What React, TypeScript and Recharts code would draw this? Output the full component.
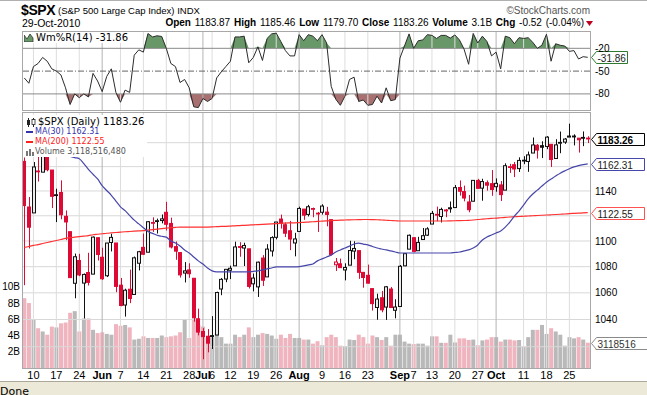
import React from 'react';
import { ComposedChart, Bar, Line, Area, XAxis, YAxis, ReferenceLine, Cell } from 'recharts';

// $SPX daily, 6-May-2010 .. 29-Oct-2010
const dates = [
  '05-06', '05-07', '05-10', '05-11', '05-12', '05-13', '05-14', '05-17', '05-18', '05-19',
  '05-20', '05-21', '05-24', '05-25', '05-26', '05-27', '05-28', '06-01', '06-02', '06-03',
  '06-04', '06-07', '06-08', '06-09', '06-10', '06-11', '06-14', '06-15', '06-16', '06-17',
  '06-18', '06-21', '06-22', '06-23', '06-24', '06-25', '06-28', '06-29', '06-30', '07-01',
  '07-02', '07-06', '07-07', '07-08', '07-09', '07-12', '07-13', '07-14', '07-15', '07-16',
  '07-19', '07-20', '07-21', '07-22', '07-23', '07-26', '07-27', '07-28', '07-29', '07-30',
  '08-02', '08-03', '08-04', '08-05', '08-06', '08-09', '08-10', '08-11', '08-12', '08-13',
  '08-16', '08-17', '08-18', '08-19', '08-20', '08-23', '08-24', '08-25', '08-26', '08-27',
  '08-30', '08-31', '09-01', '09-02', '09-03', '09-07', '09-08', '09-09', '09-10', '09-13',
  '09-14', '09-15', '09-16', '09-17', '09-20', '09-21', '09-22', '09-23', '09-24', '09-27',
  '09-28', '09-29', '09-30', '10-01', '10-04', '10-05', '10-06', '10-07', '10-08', '10-11',
  '10-12', '10-13', '10-14', '10-15', '10-18', '10-19', '10-20', '10-21', '10-22', '10-25',
  '10-26', '10-27', '10-28', '10-29',
];

const open = [
  1164.38, 1127.04, 1122.27, 1156.39, 1155.43, 1170.04, 1157.19, 1136.52, 1138.78, 1119.57,
  1107.34, 1067.26, 1084.78, 1067.42, 1075.51, 1074.27, 1102.59, 1087.3, 1073.01, 1098.82,
  1098.43, 1065.84, 1050.81, 1062.75, 1058.77, 1082.65, 1095.0, 1091.21, 1114.02, 1115.98,
  1116.16, 1122.79, 1113.9, 1095.57, 1090.93, 1075.1, 1077.5, 1071.1, 1040.56, 1031.1,
  1027.65, 1028.09, 1028.54, 1062.92, 1070.5, 1077.23, 1080.65, 1095.61, 1094.46, 1093.85,
  1066.85, 1064.53, 1086.67, 1072.14, 1092.17, 1102.89, 1117.36, 1112.84, 1108.07, 1098.44,
  1107.53, 1125.34, 1121.06, 1125.78, 1122.07, 1122.8, 1122.92, 1116.89, 1081.48, 1082.22,
  1077.49, 1081.16, 1092.08, 1092.44, 1075.63, 1073.36, 1063.2, 1048.98, 1056.28, 1049.27,
  1062.9, 1046.88, 1049.72, 1080.66, 1093.61, 1102.6, 1092.36, 1101.15, 1104.57, 1113.38,
  1121.16, 1119.43, 1123.89, 1126.39, 1126.57, 1142.82, 1139.49, 1131.1, 1131.69, 1148.64,
  1142.31, 1146.75, 1145.97, 1143.49, 1144.96, 1140.68, 1159.81, 1161.57, 1158.36, 1165.32,
  1164.28, 1171.32, 1177.82, 1177.47, 1176.83, 1178.64, 1166.74, 1179.82, 1180.52, 1184.74,
  1184.88, 1183.84, 1184.47, 1183.87,
];
const high = [
  1167.58, 1135.13, 1163.85, 1170.48, 1172.87, 1173.57, 1157.19, 1141.88, 1148.66, 1124.27,
  1107.34, 1090.16, 1089.95, 1074.75, 1090.75, 1103.52, 1102.59, 1094.77, 1098.56, 1105.67,
  1098.43, 1071.36, 1063.15, 1077.74, 1087.85, 1092.25, 1105.91, 1115.59, 1118.74, 1117.72,
  1121.01, 1131.23, 1118.5, 1099.64, 1090.93, 1083.56, 1082.6, 1071.1, 1048.08, 1033.58,
  1032.95, 1042.5, 1060.89, 1071.25, 1078.16, 1080.78, 1099.46, 1099.08, 1098.66, 1093.85,
  1074.7, 1083.94, 1088.96, 1097.5, 1103.73, 1115.01, 1120.95, 1114.66, 1115.9, 1106.44,
  1127.3, 1125.44, 1128.75, 1126.56, 1123.06, 1129.24, 1127.16, 1116.89, 1086.72, 1086.25,
  1082.62, 1100.14, 1099.77, 1092.44, 1075.63, 1081.58, 1063.2, 1059.38, 1061.45, 1065.21,
  1064.4, 1055.14, 1081.3, 1090.1, 1105.1, 1102.6, 1103.26, 1110.27, 1110.88, 1123.87,
  1127.36, 1126.46, 1125.44, 1131.47, 1144.86, 1148.59, 1144.38, 1136.77, 1148.9, 1149.92,
  1150.0, 1148.63, 1157.16, 1150.3, 1148.16, 1162.76, 1162.33, 1163.87, 1167.73, 1168.68,
  1172.58, 1184.38, 1178.89, 1181.2, 1185.53, 1178.64, 1182.94, 1189.43, 1183.93, 1196.14,
  1187.11, 1183.84, 1189.53, 1185.46,
];
const low = [
  1065.79, 1094.15, 1122.27, 1147.71, 1155.43, 1156.14, 1126.14, 1114.96, 1117.2, 1100.66,
  1071.58, 1055.9, 1072.7, 1040.78, 1065.59, 1074.27, 1084.78, 1069.89, 1072.03, 1091.81,
  1060.5, 1049.86, 1042.17, 1052.25, 1058.77, 1077.12, 1089.03, 1091.21, 1107.13, 1105.87,
  1113.93, 1108.24, 1094.18, 1085.31, 1071.6, 1067.89, 1071.45, 1038.38, 1028.33, 1010.91,
  1015.93, 1018.35, 1028.54, 1058.24, 1068.1, 1070.45, 1080.65, 1087.68, 1080.53, 1063.32,
  1061.11, 1056.88, 1065.25, 1072.14, 1087.88, 1101.3, 1109.78, 1103.11, 1092.82, 1088.01,
  1107.53, 1116.76, 1119.46, 1118.81, 1107.17, 1120.91, 1111.58, 1088.55, 1076.69, 1079.0,
  1069.49, 1081.16, 1085.76, 1070.66, 1063.91, 1067.08, 1046.68, 1039.83, 1045.4, 1039.7,
  1048.79, 1040.88, 1049.72, 1080.39, 1093.61, 1091.15, 1092.36, 1101.15, 1103.92, 1113.38,
  1115.58, 1114.63, 1118.88, 1122.43, 1126.57, 1136.22, 1131.58, 1122.79, 1131.69, 1142.0,
  1132.09, 1140.26, 1136.08, 1139.42, 1131.87, 1140.68, 1154.85, 1151.41, 1155.58, 1162.02,
  1155.71, 1171.32, 1166.71, 1167.12, 1174.55, 1159.71, 1166.74, 1171.17, 1178.99, 1184.74,
  1177.72, 1171.7, 1177.1, 1179.7,
];
const close = [
  1128.15, 1110.88, 1159.73, 1155.79, 1171.67, 1157.44, 1135.68, 1136.94, 1120.8, 1115.05,
  1071.59, 1087.69, 1073.65, 1074.03, 1067.95, 1103.06, 1089.41, 1070.71, 1098.38, 1102.83,
  1064.88, 1050.47, 1062.0, 1055.69, 1086.84, 1091.6, 1089.63, 1115.23, 1114.61, 1116.04,
  1117.51, 1113.2, 1095.31, 1092.04, 1073.69, 1076.76, 1074.57, 1041.24, 1030.71, 1027.37,
  1022.58, 1028.06, 1060.27, 1070.25, 1077.96, 1078.75, 1095.34, 1095.17, 1096.48, 1064.88,
  1071.25, 1083.48, 1069.59, 1093.67, 1102.66, 1115.01, 1113.84, 1106.13, 1101.53, 1101.6,
  1125.86, 1120.46, 1127.24, 1125.81, 1121.64, 1127.79, 1121.06, 1089.47, 1083.61, 1079.25,
  1079.38, 1092.54, 1094.16, 1075.63, 1071.69, 1067.36, 1051.87, 1055.33, 1047.22, 1064.59,
  1048.92, 1049.33, 1080.29, 1090.1, 1104.51, 1091.84, 1098.87, 1104.18, 1109.55, 1121.9,
  1121.1, 1125.07, 1124.66, 1125.59, 1142.71, 1139.78, 1134.28, 1124.83, 1148.67, 1142.16,
  1147.7, 1144.73, 1141.2, 1146.24, 1137.03, 1160.75, 1159.97, 1158.06, 1165.15, 1165.32,
  1169.77, 1178.1, 1173.81, 1176.19, 1184.71, 1165.9, 1178.17, 1180.26, 1183.08, 1185.62,
  1185.64, 1182.45, 1183.78, 1183.26,
];
const prevClose = 1165.87; // 5-May close, only used to colour the first bar

// volume in billions of shares
const volume = [
  8.6, 8.0, 6.0, 4.9, 4.5, 4.1, 5.1, 5.0, 5.5, 5.6,
  6.8, 7.0, 4.5, 6.1, 6.1, 4.7, 4.3, 4.4, 4.2, 4.1,
  5.4, 5.2, 5.3, 5.0, 3.5, 3.6, 3.9, 3.7, 3.7, 3.7,
  4.0, 3.8, 3.9, 4.0, 4.4, 6.0, 3.7, 6.0, 5.3, 5.1,
  3.7, 3.8, 4.3, 3.8, 3.0, 3.0, 4.1, 3.8, 4.1, 5.0,
  3.8, 4.1, 4.3, 4.2, 4.0, 3.6, 4.1, 3.7, 4.2, 3.7,
  3.7, 3.5, 3.5, 3.0, 3.3, 2.8, 3.8, 4.1, 3.8, 2.75,
  2.7, 3.5, 3.45, 4.1, 3.8, 3.0, 4.0, 3.8, 3.45, 3.8,
  2.75, 4.1, 4.1, 3.25, 3.0, 2.95, 3.0, 3.0, 2.75, 3.9,
  3.9, 3.1, 3.1, 4.1, 3.15, 3.65, 3.65, 3.45, 3.5, 2.8,
  3.4, 3.5, 3.8, 3.8, 3.25, 3.5, 3.5, 3.4, 3.45, 2.6,
  3.8, 4.7, 4.7, 5.3, 4.2, 4.9, 4.5, 4.1, 2.75, 3.8,
  3.65, 3.8, 3.5, 3.1185,
];

const ma30 = [
  1185, 1183, 1181, 1179, 1177, 1175, 1173.5, 1172, 1171, 1169,
  1168.5, 1167.5, 1166.6, 1162.5, 1157.7, 1153.7, 1149.8, 1144.3, 1140.4, 1136.5,
  1131.8, 1127.2, 1124.1, 1120.3, 1116.5, 1113.5, 1110.5, 1107.5, 1106, 1104.5,
  1103.7, 1103, 1100, 1098.4, 1096, 1093, 1090.6, 1087.5, 1084.5, 1082,
  1079, 1076.8, 1076, 1076, 1076, 1076, 1076, 1076, 1076, 1076,
  1076.4, 1076.8, 1077.5, 1078.3, 1079, 1079.8, 1079.8, 1079.8, 1079.8, 1079.8,
  1080, 1080.6, 1081.4, 1082.1, 1084.5, 1086, 1087.5, 1089, 1091.4, 1093,
  1094.5, 1096, 1097.6, 1098.4, 1097.6, 1096.9, 1095.7, 1094.5, 1093.7, 1093,
  1092.2, 1091.4, 1090.6, 1090.6, 1090.6, 1090.6, 1090.6, 1090.6, 1090.6, 1090.6,
  1090.6, 1090.6, 1090.6, 1090.6, 1091, 1091.4, 1092.2, 1093, 1094.5, 1096.9,
  1100.8, 1103.1, 1104.7, 1106.3, 1107.9, 1111, 1115, 1119.8, 1123.8, 1128.6,
  1133.5, 1137.5, 1140.7, 1144, 1147.2, 1149.7, 1152.2, 1154.6, 1156.5, 1158.3,
  1159.8, 1160.9, 1161.7, 1162.31,
];
const ma200 = [
  1094.9, 1095.7, 1096.5, 1097.2, 1098, 1098.8, 1099.6, 1100.4, 1101.2, 1102,
  1102.6, 1103, 1103.4, 1103.8, 1104.2, 1104.9, 1105.3, 1105.7, 1106.1, 1106.4,
  1106.7, 1107, 1107.3, 1107.5, 1107.7, 1107.9, 1108.1, 1108.5, 1108.9, 1109.3,
  1109.7, 1110.1, 1110.5, 1110.8, 1111, 1111, 1111, 1111, 1111, 1111,
  1111, 1111.1, 1111.3, 1111.5, 1111.6, 1111.8, 1112, 1112.2, 1112.4, 1112.6,
  1112.8, 1113, 1113.2, 1113.4, 1113.6, 1113.8, 1114, 1114.2, 1114.3, 1114.4,
  1114.6, 1114.8, 1115, 1115.2, 1115.5, 1115.7, 1115.9, 1116.1, 1116.3, 1116.5,
  1116.6, 1116.7, 1116.8, 1116.9, 1117, 1117, 1116.9, 1116.8, 1116.6, 1116.4,
  1116.2, 1116, 1115.8, 1115.8, 1115.8, 1115.8, 1115.8, 1115.8, 1115.8, 1115.8,
  1115.8, 1115.8, 1115.8, 1115.9, 1116, 1116.1, 1116.2, 1116.3, 1116.6, 1117,
  1117.3, 1117.6, 1117.9, 1118.1, 1118.4, 1118.7, 1119, 1119.2, 1119.4, 1119.6,
  1119.8, 1120, 1120.2, 1120.4, 1120.6, 1120.8, 1121, 1121.2, 1121.4, 1121.7,
  1121.9, 1122.1, 1122.3, 1122.55,
];

// Williams %R(14)
const wmr = [
  -59, -66, -44, -40, -32, -37, -47, -50, -55, -72,
  -94, -80, -85, -80, -84, -53, -63, -77, -57, -47,
  -78, -91, -75, -78, -29, -22, -25, -0.5, -5, -3.5,
  -4.4, -20, -40, -44, -65, -61, -72, -97, -98, -86,
  -90, -86, -59, -51, -44, -37, -5, -5, -4, -39,
  -32, -18, -36, -7, -1, 0, -11, -23, -30, -30,
  -2, -10, -2, -4, -10, -2, -13, -70, -87, -95,
  -83, -61, -58, -90, -88, -95, -94, -83, -92, -72,
  -89, -87.5, -33, -17, -1, -20, -10, -9, -2, -3,
  -7, -3, -3, -6.5, -2.4, -9, -21, -41, -0.4, -13,
  -4, -11, -30, -25, -47, -4, -6, -14, -6, -7,
  -6, -12, -20, -16, -1.5, -37, -14, -16, -17, -24,
  -23, -34, -31, -31.86,
];

const tickDates = ['05-10', '05-17', '05-24', '06-01', '06-07', '06-14', '06-21', '06-28', '07-01', '07-06', '07-12', '07-19', '07-26',
  '08-02', '08-09', '08-16', '08-23', '09-01', '09-07', '09-13', '09-20', '09-27', '10-01', '10-11', '10-18', '10-25'];
const tickLabels = ['10', '17', '24', 'Jun', '7', '14', '21', '28', 'Jul', '6', '12', '19', '26',
  'Aug', '9', '16', '23', 'Sep', '7', '13', '20', '27', 'Oct', '11', '18', '25'];
const monthTicks = ['06-01', '07-01', '08-02', '09-01', '10-01'];
const priceTicks = [1020, 1040, 1060, 1080, 1100, 1120, 1140, 1160, 1180];
const volTicks = [2, 4, 6, 8, 10];
const wmrTicks = [-20, -50, -80];

const rows = dates.map((date, i) => ({
  date,
  open: open[i],
  high: high[i],
  low: low[i],
  close: close[i],
  vol: volume[i],
  ma30: ma30[i],
  ma200: ma200[i],
  wmr: wmr[i],
  up: close[i] >= (i > 0 ? close[i - 1] : prevClose),
}));

const AR = '"Liberation Sans", Arial, sans-serif';
const VD = '"DejaVu Sans", Verdana, sans-serif';
const RED = '#dc0a34';
const PRICE_DOMAIN = [1004.6, 1205.3];
const VOL_DOMAIN = [0, 31.4];

const Candle = (props: any) => {
  const { x, y, width, height, payload } = props;
  if (!payload) return null;
  const { open: o, close: c, high: h, low: l, up } = payload;
  const span = Math.log(h) - Math.log(l);
  const py = (v: number) => y + (span > 0 ? ((Math.log(h) - Math.log(v)) / span) * height : 0);
  const cx = Math.round(x + width / 2);
  const color = up ? '#111' : RED;
  const top = py(Math.max(o, c));
  const bot = py(Math.min(o, c));
  return (
    <g>
      <line x1={cx + 0.5} x2={cx + 0.5} y1={y} y2={y + height} stroke={color} strokeWidth={1} />
      <rect x={cx - 1.5} y={top} width={3} height={Math.max(bot - top, 0.8)}
        fill={c > o ? '#ececec' : color} stroke={color} strokeWidth={1} />
    </g>
  );
};

const DateTick = (props: any) => {
  const { x, y, payload } = props;
  const idx = tickDates.indexOf(payload.value);
  const bold = monthTicks.includes(payload.value);
  return (
    <text x={x} y={y + 11} textAnchor="middle" fontSize={11} fontFamily={AR}
      fontWeight={bold ? 'bold' : 'normal'} fill="#000">{tickLabels[idx]}</text>
  );
};

const Tag = (props: any) => {
  const { viewBox, text, border, color, bold, w } = props;
  if (!viewBox) return null;
  const x0 = viewBox.x + viewBox.width + 1.5;
  const y = Math.round(viewBox.y) + 0.5;
  return (
    <g>
      <path d={`M${x0},${y} L${x0 + 5},${y - 6} L${x0 + w},${y - 6} L${x0 + w},${y + 6} L${x0 + 5},${y + 6} Z`}
        fill="#fff" stroke={border} strokeWidth={1} />
      <text x={x0 + 6} y={y + 4} fontSize={10} fontFamily={AR} fontWeight={bold ? 'bold' : 'normal'} fill={color}>{text}</text>
    </g>
  );
};

const abs = (top: number): React.CSSProperties => ({ position: 'absolute', left: 0, top });

export default function App() {
  const vlines = tickDates.map((d) => (
    <ReferenceLine key={'v' + d} x={d} stroke={monthTicks.includes(d) ? '#b4b4b4' : '#dddddd'} strokeWidth={1} />
  ));
  const vlines2 = tickDates.map((d) => (
    <ReferenceLine key={'w' + d} x={d} yAxisId="price" stroke={monthTicks.includes(d) ? '#b4b4b4' : '#dddddd'} strokeWidth={1} />
  ));

  return (
    <div style={{ position: 'absolute', left: 0, top: 0, width: 647, height: 395, background: '#fff', overflow: 'hidden' }}>
      <div style={{ position: 'absolute', left: 0, top: 0, width: 647, height: 1, background: '#b0b0b0' }} />

      {/* header */}
      <div style={{ position: 'absolute', left: 21, top: 3, fontFamily: AR, fontSize: 14, fontWeight: 'bold', lineHeight: '15px', letterSpacing: -0.4 }}>$SPX</div>
      <div style={{ position: 'absolute', left: 58, top: 5, fontFamily: AR, fontSize: 9.5, lineHeight: '12px' }}>(S&amp;P 500 Large Cap Index) INDX</div>
      <div style={{ position: 'absolute', right: 57, top: 5, fontFamily: AR, fontSize: 10, lineHeight: '12px', color: '#555' }}>©StockCharts.com</div>
      <div style={{ position: 'absolute', left: 22, top: 17, fontFamily: AR, fontSize: 10.5, lineHeight: '12px' }}>29-Oct-2010</div>
      <div style={{ position: 'absolute', right: 63, top: 17, fontFamily: AR, fontSize: 10, lineHeight: '12px', whiteSpace: 'nowrap', wordSpacing: 1 }}>
        <b>Open</b> 1183.87 <b>High</b> 1185.46 <b>Low</b> 1179.70 <b>Close</b> 1183.26 <b>Volume</b> 3.1B <b>Chg</b> -0.52 (-0.04%)
      </div>
      <svg style={{ position: 'absolute', left: 586, top: 21 }} width={8} height={6}>
        <path d="M0,0 L7,0 L3.5,5 Z" fill="#c00020" />
      </svg>

      {/* Williams %R panel */}
      <div style={abs(0)}>
        <ComposedChart width={647} height={112} data={rows} margin={{ top: 31, right: 0, left: 22, bottom: 2 }}>
          <XAxis dataKey="date" scale="band" hide />
          <YAxis orientation="right" width={57} domain={[-101.2, 2.8]} ticks={wmrTicks} allowDataOverflow
            axisLine={false} tickLine={false} tickSize={0} tickMargin={5}
            tick={{ fontSize: 10, fontFamily: AR, fill: '#000' }} />
          {vlines}
          <Area dataKey={(d: any) => [-20, Math.max(d.wmr, -20)]} type="linear" stroke="none" fill="#689868" fillOpacity={1} isAnimationActive={false} />
          <Area dataKey={(d: any) => [Math.min(d.wmr, -80), -80]} type="linear" stroke="none" fill="#a87070" fillOpacity={1} isAnimationActive={false} />
          <ReferenceLine y={-20} stroke="#8a8a8a" strokeWidth={1} />
          <ReferenceLine y={-80} stroke="#8a8a8a" strokeWidth={1} />
          <ReferenceLine y={-50} stroke="#666" strokeWidth={1} strokeDasharray="6 2 1 2" />
          <Line dataKey="wmr" type="linear" stroke="#2b2b2b" strokeWidth={1} dot={false} isAnimationActive={false} />
          <ReferenceLine y={-31.86} stroke="none"
            label={<Tag text="-31.86" border="#2f7a2f" color="#222" w={36} />} />
        </ComposedChart>
      </div>
      <div style={{ position: 'absolute', left: 22, top: 31, width: 567, height: 78, border: '1px solid #a8a8a8', pointerEvents: 'none' }} />
      <div style={{ position: 'absolute', left: 24, top: 32, background: '#fff', fontFamily: VD, fontSize: 10, lineHeight: '11px', paddingRight: 2, display: 'flex', alignItems: 'center' }}>
        <svg width={10} height={9} style={{ marginRight: 2 }}>
          <path d="M0,9 L0,2 L3,6 L6,1 L9,5 L9,9 Z" fill="#689868" stroke="#333" strokeWidth={0.8} />
        </svg>
        Wm%R(14) -31.86
      </div>

      {/* volume + grid + axes layer */}
      <div style={abs(0)}>
        <ComposedChart width={647} height={382} data={rows} margin={{ top: 113, right: 0, left: 0, bottom: 0 }} barCategoryGap="8%">
          <XAxis dataKey="date" scale="band" height={14} ticks={tickDates} interval={0} tick={<DateTick />}
            axisLine={false} tickLine={false} tickSize={0} tickMargin={0} />
          <YAxis yAxisId="vol" orientation="left" width={22} domain={VOL_DOMAIN} ticks={volTicks} allowDataOverflow
            tickFormatter={(v: number) => v + 'B'} axisLine={false} tickLine={false} tickSize={0} tickMargin={2}
            tick={{ fontSize: 10, fontFamily: AR, fill: '#000' }} />
          <YAxis yAxisId="price" orientation="right" width={57} scale="log" domain={PRICE_DOMAIN} ticks={priceTicks} allowDataOverflow
            axisLine={false} tickLine={false} tickSize={0} tickMargin={5}
            tick={{ fontSize: 10, fontFamily: AR, fill: '#000' }} />
          <Bar yAxisId="vol" dataKey="vol" isAnimationActive={false}>
            {rows.map((r, i) => (
              <Cell key={i} fill={r.up ? '#b9b9b9' : '#efb4be'} />
            ))}
          </Bar>
          {priceTicks.map((p) => (
            <ReferenceLine key={'h' + p} yAxisId="price" y={p} stroke="#d8d8d8" strokeWidth={1} />
          ))}
          {vlines2}
        </ComposedChart>
      </div>

      {/* price layer */}
      <div style={abs(0)}>
        <ComposedChart width={647} height={382} data={rows} margin={{ top: 113, right: 57, left: 22, bottom: 14 }} barCategoryGap="8%">
          <XAxis dataKey="date" scale="band" hide />
          <YAxis yAxisId="price" scale="log" domain={PRICE_DOMAIN} allowDataOverflow hide />
          <YAxis yAxisId="vol" domain={VOL_DOMAIN} allowDataOverflow hide />
          <Line yAxisId="price" dataKey="ma200" type="monotone" stroke="#ff3030" strokeWidth={1.2} dot={false} isAnimationActive={false} />
          <Line yAxisId="price" dataKey="ma30" type="monotone" stroke="#4646aa" strokeWidth={1.2} dot={false} isAnimationActive={false} />
          <Bar yAxisId="price" dataKey={(d: any) => [d.low, d.high]} shape={<Candle />} isAnimationActive={false} />
          <ReferenceLine yAxisId="vol" y={3.1185} stroke="none"
            label={<Tag text="3118516" border="#8a8a8a" color="#333" w={56} />} />
          <ReferenceLine yAxisId="price" y={1122.55} stroke="none"
            label={<Tag text="1122.55" border="#ff5050" color="#222" w={53} />} />
          <ReferenceLine yAxisId="price" y={1162.31} stroke="none"
            label={<Tag text="1162.31" border="#4646aa" color="#222" w={53} />} />
          <ReferenceLine yAxisId="price" y={1183.26} stroke="none"
            label={<Tag text="1183.26" border="#000" color="#000" bold w={53} />} />
        </ComposedChart>
      </div>
      <div style={{ position: 'absolute', left: 22, top: 112, width: 567, height: 255, border: '1px solid #a8a8a8', pointerEvents: 'none' }} />

      {/* legend */}
      <div style={{ position: 'absolute', left: 23, top: 115, width: 124, height: 42, background: '#fff' }} />
      <div style={{ position: 'absolute', left: 26, top: 117, fontFamily: VD, lineHeight: '10px', whiteSpace: 'nowrap' }}>
        <div style={{ fontSize: 10, display: 'flex', alignItems: 'center', height: 10 }}>
          <svg width={10} height={9} style={{ marginRight: 2 }}>
            <line x1={2.5} x2={2.5} y1={0} y2={9} stroke="#222" />
            <rect x={1} y={2} width={3} height={5} fill="#222" />
            <line x1={7.5} x2={7.5} y1={0} y2={9} stroke="#222" />
            <rect x={6} y={1.5} width={3} height={5} fill="#fff" stroke="#222" strokeWidth={0.8} />
          </svg>
          $SPX (Daily) 1183.26
        </div>
        <div style={{ fontSize: 8, color: '#3333aa', display: 'flex', alignItems: 'center', height: 10 }}>
          <span style={{ display: 'inline-block', width: 7, height: 2, background: '#3333aa', marginRight: 2 }} />MA(30) 1162.31
        </div>
        <div style={{ fontSize: 8, color: '#ff2020', display: 'flex', alignItems: 'center', height: 10 }}>
          <span style={{ display: 'inline-block', width: 7, height: 2, background: '#ff2020', marginRight: 2 }} />MA(200) 1122.55
        </div>
        <div style={{ fontSize: 8, color: '#555', display: 'flex', alignItems: 'center', height: 10 }}>
          <svg width={8} height={8} style={{ marginRight: 1 }}>
            <rect x={0} y={3} width={2} height={5} fill="#777" />
            <rect x={3} y={1} width={2} height={7} fill="#777" />
            <rect x={6} y={4} width={2} height={4} fill="#777" />
          </svg>
          Volume 3,118,516,480
        </div>
      </div>

      {/* browser status bar */}
      <div style={{ position: 'absolute', left: 0, top: 381, width: 647, height: 14, background: '#ece9d8', borderTop: '1px solid #aca899' }}>
        <div style={{ position: 'absolute', left: 0, top: 4, fontFamily: VD, fontSize: 11, lineHeight: '12px' }}>Done</div>
      </div>
    </div>
  );
}
